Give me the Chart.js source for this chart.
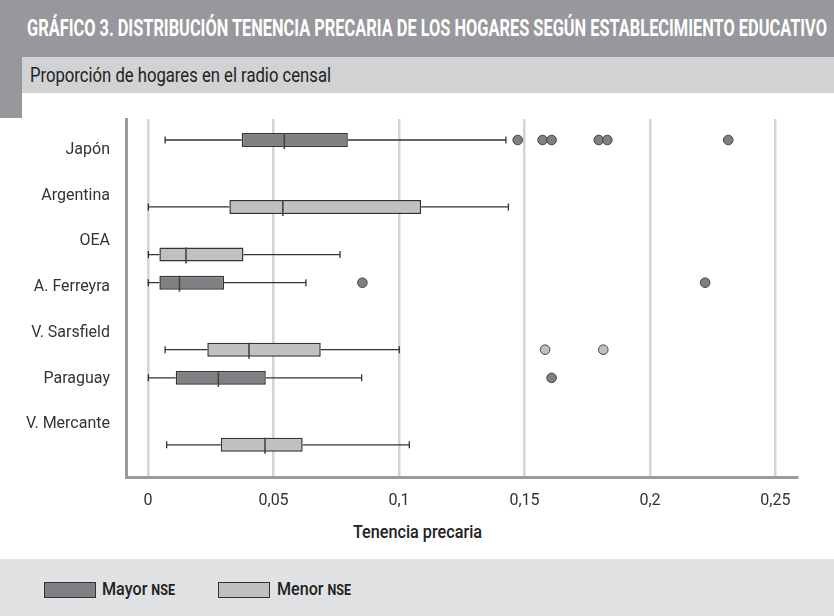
<!DOCTYPE html>
<html lang="es">
<head>
<meta charset="utf-8">
<script src="https://cdn.jsdelivr.net/npm/chart.js@4/dist/chart.umd.min.js"></script>
<style>
  html, body { margin: 0; padding: 0; background: #fff; }
  #page { position: relative; width: 834px; height: 616px; overflow: hidden; font-family: Roboto, sans-serif; }
  .band { position: absolute; }
  .fit { position: absolute; display: inline-block; white-space: nowrap; transform-origin: left center; }
  #titulo { left: 27px; top: 13px; font-size: 24px; line-height: 30px; font-weight: 700; color: #fff; }
  #subtitulo { left: 30px; top: 62px; font-size: 20px; line-height: 26px; color: #222; }
  #ejeX { left: 353px; top: 520px; font-size: 18px; line-height: 24px; font-weight: 500; color: #222; }
  .sw { position: absolute; top: 582px; width: 50px; height: 14px; border: 1px solid #333; }
  .leg { top: 577px; font-size: 18px; line-height: 24px; font-weight: 500; color: #222; }
  .leg small { font-size: 14px; font-weight: 700; }
  canvas { position: absolute; left: 0; top: 0; }
</style>
</head>
<body>
<div id="page">
  <div class="band" style="left:0;top:0;width:834px;height:57px;background:#97989b"></div>
  <div class="band" style="left:0;top:0;width:22px;height:118px;background:#97989b"></div>
  <div class="band" style="left:22px;top:57px;width:812px;height:36px;background:#d1d2d4"></div>
  <div class="band" style="left:0;top:559px;width:834px;height:57px;background:#e1e2e3"></div>
  <span class="fit" id="titulo" data-w="800">GRÁFICO 3. DISTRIBUCIÓN TENENCIA PRECARIA DE LOS HOGARES SEGÚN ESTABLECIMIENTO EDUCATIVO</span>
  <span class="fit" id="subtitulo" data-w="301">Proporción de hogares en el radio censal</span>
  <span class="fit" id="ejeX" data-w="129">Tenencia precaria</span>
  <div class="sw" style="left:44px;background:#808084"></div>
  <span class="fit leg" style="left:102px" data-w="73">Mayor <small>NSE</small></span>
  <div class="sw" style="left:218px;background:#bfc0c2"></div>
  <span class="fit leg" style="left:277px" data-w="74">Menor <small>NSE</small></span>
  <canvas id="grafico" width="834" height="616"></canvas>
</div>
<script>
// Datos (proporción de hogares con tenencia precaria)
const escuelas = ['Japón', 'Argentina', 'OEA', 'A. Ferreyra', 'V. Sarsfield', 'Paraguay', 'V. Mercante'];
const nse = ['Mayor', 'Menor', 'Menor', 'Mayor', 'Menor', 'Mayor', 'Menor'];
const minimo  = [0.0068, 0.0001, 0.0001, 0.0001, 0.0068, 0.0001, 0.0074];
const q1      = [0.0373, 0.0324, 0.0045, 0.0045, 0.0236, 0.0110, 0.0290];
const mediana = [0.0543, 0.0537, 0.0151, 0.0125, 0.0402, 0.0280, 0.0466];
const q3      = [0.0796, 0.1088, 0.0380, 0.0303, 0.0688, 0.0469, 0.0616];
const maximo  = [0.1426, 0.1436, 0.0765, 0.0629, 0.1001, 0.0851, 0.1041];
const atipicos = [
    [0.1473, 0.1572, 0.1608, 0.1796, 0.1830, 0.2312],
    [],
    [],
    [0.0854, 0.2220],
    [0.1582, 0.1814],
    [0.1608],
    []
];
const ticksX = [0, 0.05, 0.1, 0.15, 0.2, 0.25];

const COLORES = { Mayor: '#808084', Menor: '#bfc0c2' };
const FUENTE = { family: 'Roboto', size: 16 };

// ajusta el ancho de los textos condensados
document.querySelectorAll('.fit').forEach(el => {
    const w = el.getBoundingClientRect().width;
    el.style.transform = `scaleX(${el.dataset.w / w})`;
});

function datosGrupo(g) {
    return escuelas.map((e, i) => ({ x: [q1[i], q3[i]], y: i, i: i })).filter(d => nse[d.i] === g);
}

// bigotes, mediana y valores atípicos
const cajaPlugin = {
    id: 'cajas',
    afterDatasetsDraw(chart) {
        const ctx = chart.ctx;
        const sx = chart.scales.x;
        ctx.save();
        chart.data.datasets.forEach((ds, di) => {
            const meta = chart.getDatasetMeta(di);
            meta.data.forEach((bar, j) => {
                const i = ds.data[j].i;
                const y = bar.y;
                const h = bar.height;
                const px = v => sx.getPixelForValue(v);
                ctx.strokeStyle = '#333';
                ctx.lineWidth = 1.3;
                ctx.beginPath();
                ctx.moveTo(px(minimo[i]), y); ctx.lineTo(px(q1[i]), y);
                ctx.moveTo(px(q3[i]), y); ctx.lineTo(px(maximo[i]), y);
                ctx.moveTo(px(minimo[i]), y - 3.5); ctx.lineTo(px(minimo[i]), y + 3.5);
                ctx.moveTo(px(maximo[i]), y - 3.5); ctx.lineTo(px(maximo[i]), y + 3.5);
                ctx.stroke();
                ctx.lineWidth = 1.6;
                ctx.strokeStyle = '#444';
                ctx.beginPath();
                ctx.moveTo(px(mediana[i]), y - h / 2); ctx.lineTo(px(mediana[i]), y + h / 2 + 2);
                ctx.stroke();
                atipicos[i].forEach(v => {
                    ctx.beginPath();
                    ctx.arc(px(v), y, 4.8, 0, Math.PI * 2);
                    ctx.fillStyle = COLORES[nse[i]];
                    ctx.fill();
                    ctx.lineWidth = 1;
                    ctx.strokeStyle = '#444';
                    ctx.stroke();
                });
            });
        });
        ctx.restore();
    }
};

const indices = s => { s.ticks = escuelas.map((e, i) => ({ value: i })); };

new Chart(document.getElementById('grafico'), {
    type: 'bar',
    data: {
        datasets: ['Mayor', 'Menor'].map(g => ({
            label: g + ' NSE',
            data: datosGrupo(g),
            backgroundColor: COLORES[g],
            borderColor: '#333',
            borderWidth: 1.5,
            borderSkipped: false,
            categoryPercentage: 0.815,
            barPercentage: 0.72
        }))
    },
    options: {
        indexAxis: 'y',
        responsive: false,
        animation: false,
        layout: { padding: { left: 0, top: 119, right: 37, bottom: 99 } },
        plugins: { legend: { display: false }, tooltip: { enabled: false } },
        scales: {
            x: {
                type: 'linear',
                min: -0.0088,
                max: 0.2586,
                afterBuildTicks: s => { s.ticks = ticksX.map(v => ({ value: v })); },
                afterFit: s => { s.height = 40; },
                grid: { color: '#d4d4d6', lineWidth: 2.5, drawTicks: false },
                border: { color: '#9b9b9d', width: 3 },
                ticks: {
                    font: FUENTE, color: '#333', padding: 14,
                    callback: v => String(v).replace('.', ',')
                }
            },
            y: {
                type: 'linear',
                reverse: true,
                offset: false,
                min: -0.645,
                max: 6.88,
                afterBuildTicks: indices,
                grid: { offset: false },
                display: false
            },
            yl: {
                type: 'linear',
                position: 'left',
                reverse: true,
                offset: false,
                min: -0.678,
                max: 7.155,
                afterBuildTicks: indices,
                afterFit: s => { s.width = 126; },
                grid: { offset: false, drawOnChartArea: false, drawTicks: false },
                border: { color: '#9b9b9d', width: 3 },
                ticks: {
                    font: FUENTE, color: '#333', padding: 16,
                    callback: v => escuelas[v]
                }
            }
        }
    },
    plugins: [cajaPlugin]
});
</script>
</body>
</html>
